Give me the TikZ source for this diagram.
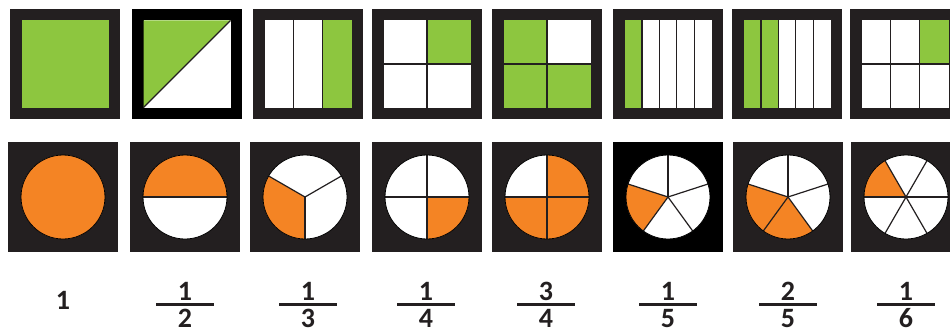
\documentclass[tikz,border=0pt]{standalone}
\usepackage{fontspec}
\setmainfont{Carlito}

\definecolor{leaf}{HTML}{8DC63F}
\definecolor{peel}{HTML}{F48424}
\definecolor{frame}{HTML}{231F20}

\tikzset{
  tile/.style={fill=frame, draw=none, minimum size=110pt, inner sep=0pt},
  cut/.style={frame, line width=1.2pt},
  rim/.style={black, line width=0.8pt},
  digit/.style={font=\bfseries\fontsize{28}{30}\selectfont, text=frame, inner sep=0pt, anchor=base},
  fracbar/.style={fill=frame, minimum width=58pt, minimum height=3pt, inner sep=0pt}
}

\begin{document}
\begin{tikzpicture}[x=1pt,y=-1pt]
    \useasboundingbox (0,0) rectangle (950,329);
    % Square tiles
    \foreach \n/\x/\c in {1/65/frame,2/187/black,3/308/frame,4/427/frame,5/547/frame,6/668/frame,7/787/frame,8/905/frame}
        \node[tile, fill=\c] (sq\n) at (\x,64) {};
    % 1
    \begin{scope}[shift={(sq1.center)},yscale=-1]
        \fill[leaf] (-43.5,-43.5) rectangle (43.5,43.5);
    \end{scope}
    % 1/2
    \begin{scope}[shift={(sq2.center)},yscale=-1]
        \fill[white] (-43.5,-43.5) rectangle (43.5,43.5);
        \fill[leaf] (-43.5,-43.5) -- (43.5,43.5) -- (-43.5,43.5) -- cycle;
        \draw[cut] (-43.5,-43.5) -- (43.5,43.5);
    \end{scope}
    % 1/3
    \begin{scope}[shift={(sq3.center)},yscale=-1]
        \fill[white] (-43.5,-43.5) rectangle (43.5,43.5);
        \fill[leaf] (14.5,-43.5) rectangle (43.5,43.5);
        \foreach \u in {-14.5,14.5}
            \draw[cut] (\u,-43.5) -- (\u,43.5);
    \end{scope}
    % 1/4
    \begin{scope}[shift={(sq4.center)},yscale=-1]
        \fill[white] (-43.5,-43.5) rectangle (43.5,43.5);
        \fill[leaf] (0,0) rectangle (43.5,43.5);
        \draw[cut] (0,-43.5) -- (0,43.5) (-43.5,0) -- (43.5,0);
    \end{scope}
    % 3/4
    \begin{scope}[shift={(sq5.center)},yscale=-1]
        \fill[leaf] (-43.5,-43.5) rectangle (43.5,43.5);
        \fill[white] (0,0) rectangle (43.5,43.5);
        \draw[cut] (0,-43.5) -- (0,43.5) (-43.5,0) -- (43.5,0);
    \end{scope}
    % 1/5
    \begin{scope}[shift={(sq6.center)},yscale=-1]
        \fill[white] (-43.5,-43.5) rectangle (43.5,43.5);
        \fill[leaf] (-43.5,-43.5) rectangle (-26.1,43.5);
        \foreach \u in {-26.1,-8.7,8.7,26.1}
            \draw[cut] (\u,-43.5) -- (\u,43.5);
    \end{scope}
    % 2/5
    \begin{scope}[shift={(sq7.center)},yscale=-1]
        \fill[white] (-43.5,-43.5) rectangle (43.5,43.5);
        \fill[leaf] (-43.5,-43.5) rectangle (-8.7,43.5);
        \foreach \u in {-26.1,-8.7,8.7,26.1}
            \draw[cut] (\u,-43.5) -- (\u,43.5);
    \end{scope}
    % 1/6
    \begin{scope}[shift={(sq8.center)},yscale=-1]
        \fill[white] (-43.5,-43.5) rectangle (43.5,43.5);
        \fill[leaf] (14.5,0) rectangle (43.5,43.5);
        \foreach \u in {-14.5,14.5}
            \draw[cut] (\u,-43.5) -- (\u,43.5);
        \draw[cut] (-43.5,0) -- (43.5,0);
    \end{scope}

    % Circle tiles
    \foreach \n/\x/\c in {1/63/frame,2/185/frame,3/305/frame,4/427/frame,5/547/frame,6/668/black,7/788/frame,8/906/frame}
        \node[tile, fill=\c] (ci\n) at (\x,197) {};
    % parts/start of cuts/orange from/to
    \foreach \n/\k/\s/\a/\b in {1/1/0/0/360,2/2/0/0/180,3/3/30/150/270,4/4/0/270/360,5/4/0/180/450,6/5/18/162/234,7/5/18/162/306,8/6/0/120/180} {
        \begin{scope}[shift={(ci\n.center)},yscale=-1]
            \fill[white] (0,0) circle (42);
            \fill[peel] (0,0) -- (\a:42) arc[start angle=\a, end angle=\b, radius=42] -- cycle;
            \ifnum\k>1
                \foreach \i in {1,...,\k}
                    \draw[cut] (0,0) -- ({\s+360*\i/\k}:42);
            \fi
            \draw[rim] (0,0) circle (42);
        \end{scope}
    }

    % Labels
    \node[digit] (whole) at (63,309) {1};
    \foreach \n/\x/\p/\q in {2/185/1/2,3/308/1/3,4/426/1/4,5/546/3/4,6/668/1/5,7/788/2/5,8/906/1/6} {
        \node[digit] (num\n) at (\x,300) {\p};
        \node[fracbar] (bar\n) at (\x,304.5) {};
        \node[digit] (den\n) at (\x,327) {\q};
    }
\end{tikzpicture}
\end{document}
